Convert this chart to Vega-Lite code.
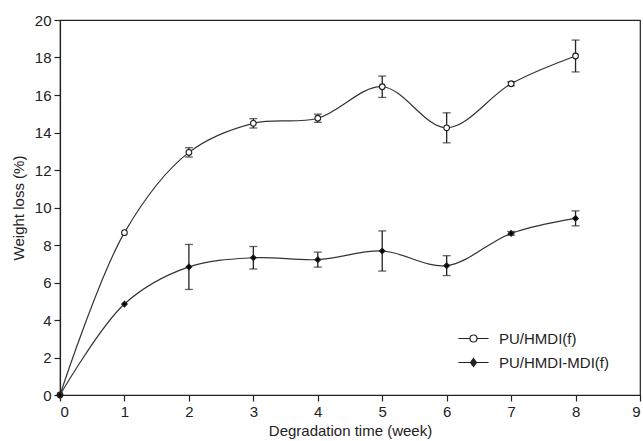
{
  "$schema": "https://vega.github.io/schema/vega-lite/v6.json",
  "width": 580,
  "height": 375,
  "autosize": {"type": "none"},
  "padding": {"left": 60, "top": 20, "right": 3, "bottom": 46},
  "background": "white",
  "config": {
    "view": {"stroke": "#222", "strokeWidth": 1.2},
    "font": "Liberation Sans",
    "axis": {
      "grid": false,
      "domainColor": "#222",
      "domainWidth": 1.2,
      "tickColor": "#222",
      "tickWidth": 1.2,
      "tickSize": 6,
      "labelFontSize": 15,
      "labelColor": "#222",
      "labelPadding": 3,
      "titleFontSize": 15,
      "titleFontWeight": "normal",
      "titleColor": "#222"
    }
  },
  "data": {
    "values": [
      {"week": 0, "series": "PU/HMDI(f)", "loss": 0, "err": 0},
      {"week": 1, "series": "PU/HMDI(f)", "loss": 8.66, "err": 0},
      {"week": 2, "series": "PU/HMDI(f)", "loss": 12.94, "err": 0.25},
      {"week": 3, "series": "PU/HMDI(f)", "loss": 14.49, "err": 0.25},
      {"week": 4, "series": "PU/HMDI(f)", "loss": 14.76, "err": 0.22},
      {"week": 5, "series": "PU/HMDI(f)", "loss": 16.44, "err": 0.57},
      {"week": 6, "series": "PU/HMDI(f)", "loss": 14.25, "err": 0.8},
      {"week": 7, "series": "PU/HMDI(f)", "loss": 16.6, "err": 0.1},
      {"week": 8, "series": "PU/HMDI(f)", "loss": 18.08, "err": 0.85},
      {"week": 0, "series": "PU/HMDI-MDI(f)", "loss": 0, "err": 0},
      {"week": 1, "series": "PU/HMDI-MDI(f)", "loss": 4.85, "err": 0},
      {"week": 2, "series": "PU/HMDI-MDI(f)", "loss": 6.83, "err": 1.2},
      {"week": 3, "series": "PU/HMDI-MDI(f)", "loss": 7.32, "err": 0.6},
      {"week": 4, "series": "PU/HMDI-MDI(f)", "loss": 7.22, "err": 0.4},
      {"week": 5, "series": "PU/HMDI-MDI(f)", "loss": 7.68, "err": 1.07},
      {"week": 6, "series": "PU/HMDI-MDI(f)", "loss": 6.9, "err": 0.53},
      {"week": 7, "series": "PU/HMDI-MDI(f)", "loss": 8.62, "err": 0.1},
      {"week": 8, "series": "PU/HMDI-MDI(f)", "loss": 9.42, "err": 0.4}
    ]
  },
  "encoding": {
    "x": {
      "field": "week",
      "type": "quantitative",
      "scale": {"domain": [0, 9], "nice": false},
      "axis": {"values": [0, 1, 2, 3, 4, 5, 6, 7, 8, 9], "title": "Degradation time (week)"}
    },
    "y": {
      "field": "loss",
      "type": "quantitative",
      "scale": {"domain": [0, 20], "nice": false},
      "axis": {"values": [0, 2, 4, 6, 8, 10, 12, 14, 16, 18, 20], "title": "Weight loss (%)", "titlePadding": 8}
    }
  },
  "layer": [
    {
      "mark": {"type": "line", "interpolate": "catmull-rom", "color": "#333", "strokeWidth": 1.2},
      "encoding": {
        "detail": {"field": "series"}
      }
    },
    {
      "transform": [{"filter": "datum.err > 0"}],
      "mark": {"type": "errorbar", "ticks": {"size": 8, "thickness": 1.3}, "color": "#222", "thickness": 1.3},
      "encoding": {
        "yError": {"field": "err"},
        "detail": {"field": "series"}
      }
    },
    {
      "mark": {"type": "point", "filled": false, "stroke": "#222", "strokeWidth": 1.1, "size": 32, "opacity": 1},
      "encoding": {
        "fill": {
          "field": "series",
          "type": "nominal",
          "scale": {"domain": ["PU/HMDI(f)", "PU/HMDI-MDI(f)"], "range": ["white", "black"]},
          "legend": null
        },
        "shape": {
          "field": "series",
          "type": "nominal",
          "scale": {"domain": ["PU/HMDI(f)", "PU/HMDI-MDI(f)"], "range": ["circle", "diamond"]},
          "legend": null
        }
      }
    },
    {
      "transform": [{"filter": "datum.week < 0"}],
      "mark": {"type": "point", "filled": false, "stroke": "#222", "strokeWidth": 1.2, "opacity": 1},
      "encoding": {
        "shape": {
          "field": "series",
          "type": "nominal",
          "scale": {
            "domain": ["PU/HMDI(f)", "PU/HMDI-MDI(f)"],
            "range": [
              "M-3,0H-0.7M0.7,0H3M-0.7,0A0.7,0.7 0 1,1 0.7,0A0.7,0.7 0 1,1 -0.7,0",
              "M-3,0H3M0,-0.8L0.6,0L0,0.8L-0.6,0ZM0,-0.56L0.42,0L0,0.56L-0.42,0ZM0,-0.32L0.24,0L0,0.32L-0.24,0ZM0,-0.08L0.06,0L0,0.08L-0.06,0Z"
            ]
          },
          "legend": {
            "orient": "none",
            "legendX": 406,
            "legendY": 311,
            "title": null,
            "labelFontSize": 15,
            "labelColor": "#222",
            "symbolSize": 100,
            "symbolStrokeWidth": 1.2,
            "symbolStrokeColor": "#222",
            "symbolFillColor": "white",
            "labelOffset": 18,
            "rowPadding": 8,
            "padding": 0
          }
        }
      }
    }
  ],
  "resolve": {"scale": {"shape": "independent"}}
}
